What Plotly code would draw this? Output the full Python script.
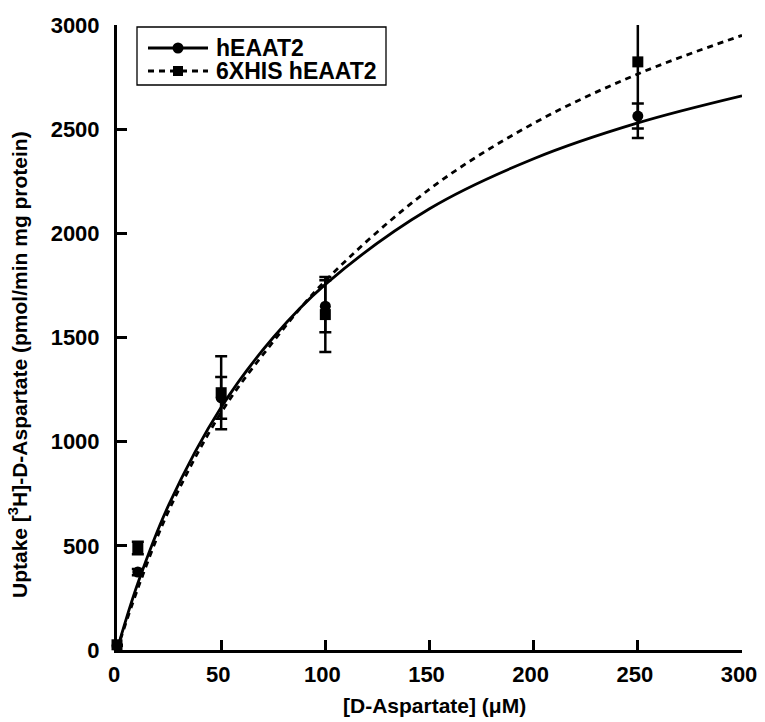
import plotly.graph_objects as go

# Measured data (mean ± error)
conc = [0, 10, 50, 100, 250]
heaat2_mean = [20, 374, 1210, 1650, 2563]
heaat2_err = [0, 15, 100, 125, 60]
his_mean = [25, 490, 1235, 1610, 2823]
his_err = [0, 30, 175, 180, 365]

# Fitted curves
curve_x = [0, 10, 25, 50, 75, 100, 150, 200, 250, 300]
heaat2_fit = [0, 320, 700, 1165, 1500, 1755, 2118, 2358, 2530, 2660]
his_fit = [0, 295, 672, 1140, 1480, 1772, 2212, 2528, 2765, 2950]

x_ticks = [0, 50, 100, 150, 200, 250, 300]
y_ticks = [0, 500, 1000, 1500, 2000, 2500, 3000]

legend_names = ["hEAAT2", "6XHIS hEAAT2"]

# page offset (default body margin of the html page)
OFF = 8
W, H = 765 - OFF, 722 - OFF
L, R, T, B = 117 - OFF, W + OFF - 742, 25 - OFF, H + OFF - 650


def px(xp):
    return (xp - 117) / 625


def py(yp):
    return (650 - yp) / 625


series = [
    (heaat2_mean, heaat2_err, heaat2_fit, "circle", "solid"),
    (his_mean, his_err, his_fit, "square", "6px,5px"),
]

fig = go.Figure()
for mean, err, fit, sym, dash in series:
    fig.add_trace(go.Scatter(x=curve_x, y=fit, mode="lines",
                             line=dict(color="black", width=2.8, dash=dash, shape="spline", smoothing=1.0),
                             showlegend=False, hoverinfo="skip"))
    fig.add_trace(go.Scatter(x=conc, y=mean, mode="markers", marker=dict(size=0.1, color="black", opacity=0),
                             error_y=dict(type="data", array=err, visible=True, color="black", thickness=2.5, width=6),
                             showlegend=False, cliponaxis=True))
    fig.add_trace(go.Scatter(x=conc, y=mean, mode="markers", marker=dict(symbol=sym, size=11, color="black"),
                             showlegend=False, cliponaxis=False))

axis_common = dict(showline=True, linecolor="black", linewidth=3, ticks="inside", ticklen=10, tickwidth=3,
                   tickcolor="black", showgrid=False, zeroline=False, mirror=False, automargin=False,
                   ticklabeloverflow="allow",
                   tickfont=dict(family="Liberation Sans, Arial", size=22, color="black", weight="bold"))

bold = dict(family="Liberation Sans, Arial", size=21, color="black", weight="bold")
leg_font = dict(family="Liberation Sans, Arial", size=23, color="black", weight="bold")

# manual legend (box, line samples, markers, labels)
shapes = [
    dict(type="rect", xref="paper", yref="paper", x0=px(137), x1=px(386), y0=py(27), y1=py(85),
         line=dict(color="black", width=1.3), fillcolor="white", layer="above"),
    dict(type="line", xref="paper", yref="paper", x0=px(148), x1=px(208), y0=py(48), y1=py(48),
         line=dict(color="black", width=2.8), layer="above"),
    dict(type="line", xref="paper", yref="paper", x0=px(148), x1=px(208), y0=py(71), y1=py(71),
         line=dict(color="black", width=2.8, dash="6px,5px"), layer="above"),
    dict(type="circle", xref="paper", yref="paper", x0=px(172.5), x1=px(183.5), y0=py(53.5), y1=py(42.5),
         line=dict(color="black", width=0), fillcolor="black", layer="above"),
    dict(type="rect", xref="paper", yref="paper", x0=px(173), x1=px(183), y0=py(76), y1=py(66),
         line=dict(color="black", width=0), fillcolor="black", layer="above"),
]

annotations = [
    dict(text=legend_names[0], xref="paper", yref="paper", x=px(214), y=py(48), xanchor="left", yanchor="middle",
         showarrow=False, font=leg_font),
    dict(text=legend_names[1], xref="paper", yref="paper", x=px(214), y=py(71), xanchor="left", yanchor="middle",
         showarrow=False, font=leg_font),
    dict(text="Uptake [<sup>3</sup>H]-D-Aspartate (pmol/min mg protein)", textangle=-90,
         xref="paper", yref="paper", x=px(18), y=py(365), xanchor="center", yanchor="middle",
         showarrow=False, font=bold),
    dict(text="[D-Aspartate] (μM)",
         xref="paper", yref="paper", x=px(434), y=py(705), xanchor="center", yanchor="middle",
         showarrow=False, font=bold),
]

fig.update_layout(
    width=W, height=H,
    margin=dict(l=L, r=R, t=T, b=B, autoexpand=False),
    plot_bgcolor="white", paper_bgcolor="white",
    showlegend=False,
    xaxis=dict(range=[0, 300], tickvals=x_ticks, ticklabelstandoff=3, ticklabelshift=-3, **axis_common),
    yaxis=dict(range=[0, 3000], tickvals=y_ticks, ticklabelstandoff=10, **axis_common),
    shapes=shapes,
    annotations=annotations,
)

fig.write_html("out.html")
